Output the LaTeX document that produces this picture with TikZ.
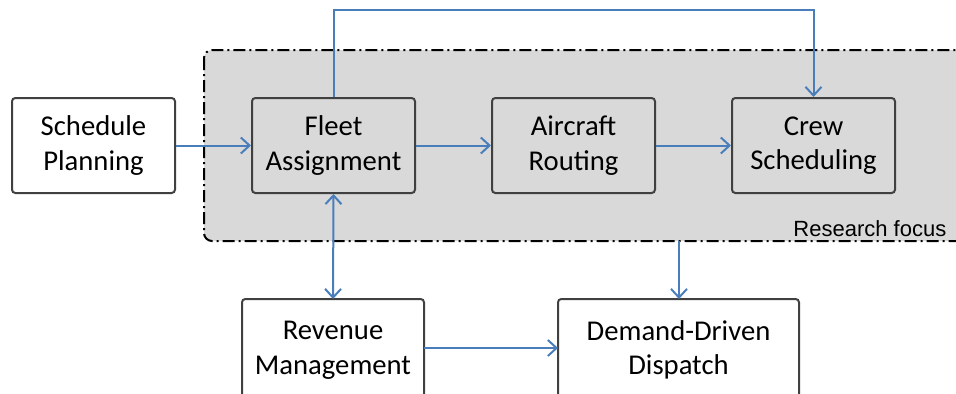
\documentclass[tikz,border=0pt]{standalone}
\usepackage{fontspec}
\setmainfont{Carlito}
\newfontfamily\arialf{Liberation Sans}
\usetikzlibrary{arrows.meta}
\definecolor{lblue}{HTML}{4A7EBB}
\definecolor{bord}{HTML}{404040}
\definecolor{regfill}{HTML}{D9D9D9}
\begin{document}
\begin{tikzpicture}[x=0.75pt,y=-0.75pt,
  procbox/.style={draw=bord,line width=1.5pt,rounded corners=2.5pt,fill=white,align=center,
    font=\fontsize{21.5}{26}\selectfont},
  conn/.style={draw=lblue,line width=1.5pt,-{Straight Barb[length=6.5pt,width=12pt,line width=1.5pt]}},
  bconn/.style={draw=lblue,line width=1.5pt,{Straight Barb[length=6.5pt,width=12pt,line width=1.5pt]}-{Straight Barb[length=6.5pt,width=12pt,line width=1.5pt]}}]
\useasboundingbox (0,0) rectangle (956,393);
% research region
\begin{scope}
\clip (0,0) rectangle (956,393);
\draw[fill=regfill,line width=1.5pt,dash pattern=on 9pt off 3pt on 1.5pt off 3pt,rounded corners=6pt]
  (204,50) rectangle (1000,241);
\end{scope}
\node[anchor=base east,font=\arialf\fontsize{16.5}{19}\selectfont] (rf) at (951,236) {Research focus};
\coordinate (rbot) at (679,241);
% boxes
\node[procbox,minimum width=163*0.75pt,minimum height=95*0.75pt] (sp) at (93.5,145.5) {Schedule\\Planning};
\node[procbox,minimum width=163*0.75pt,minimum height=95*0.75pt,fill=regfill] (fa) at (333.5,145.5) {Fleet\\Assignment};
\node[procbox,minimum width=163*0.75pt,minimum height=95*0.75pt,fill=regfill] (ar) at (573.5,145.5) {Aircraft\\Routing};
\node[procbox,minimum width=163*0.75pt,minimum height=95*0.75pt,fill=regfill] (cs) at (813.5,145.5) {Crew\\Scheduling};
\begin{scope}
\clip (0,0) rectangle (956,393);
\draw[draw=bord,line width=1.5pt,rounded corners=2.5pt,fill=white] (242,299) rectangle (424,420);
\draw[draw=bord,line width=1.5pt,rounded corners=2.5pt,fill=white] (558,299) rectangle (799,420);
\end{scope}
\node[align=center,font=\fontsize{21.5}{26}\selectfont] (rm) at (333,350) {Revenue\\Management};
\node[align=center,font=\fontsize{21.5}{26}\selectfont] (dd) at (678.5,350) {Demand-Driven\\Dispatch};
\coordinate (rmT) at (333,299);
\coordinate (rmR) at (424,348);
\coordinate (ddT) at (679,299);
\coordinate (ddL) at (558,348);
% connectors
\draw[conn] (sp.east) -- (fa.west);
\draw[conn] (fa.east) -- (ar.west);
\draw[conn] (ar.east) -- (cs.west);
\draw[conn] (fa.north) -- (333.5,10) -| (cs.north);
\draw[bconn] (fa.south) -- (rmT);
\draw[conn] (rbot) -- (ddT);
\draw[conn] (rmR) -- (ddL);
\end{tikzpicture}
\end{document}
